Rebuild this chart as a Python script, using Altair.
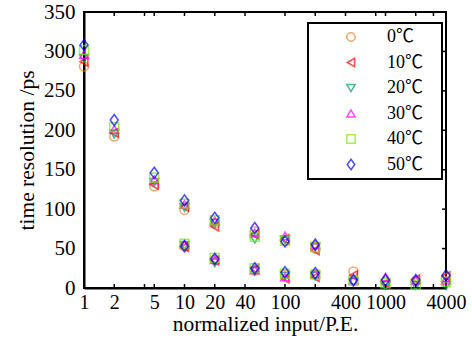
import altair as alt
import pandas as pd

temps = ["0℃", "10℃", "20℃", "30℃", "40℃", "50℃"]
colors = ["#E8842A", "#FF0000", "#00996B", "#FF00FF", "#77EE00", "#0000FF"]
shapes = ["circle", "triangle-left", "triangle-down", "triangle-up", "square",
          "M0,-1.25L0.9,0L0,1.25L-0.9,0Z"]

# upper branch
x_main = [1, 2, 5, 10, 20, 50, 100, 200, 480, 1000, 2000, 4000]
res_main = {
    "0℃":  [281, 192, 129, 99, 82, 72, 60, 50, 21, 8, 9, 13],
    "10℃": [287, 197, 131, 103, 78, 68, 62, 48, 16, 6, 11, 15],
    "20℃": [291, 195, 134, 102, 82, 62, 61, 52, 7, 3, 3, 3],
    "30℃": [296, 201, 137, 106, 85, 70, 66, 55, 10, 14, 10, 10],
    "40℃": [302, 204, 140, 107, 86, 65, 60, 52, 9, 6, 4, 8],
    "50℃": [308, 213, 146, 111, 89, 76, 59, 55, 10, 10, 10, 16],
}
# lower branch
x_low = [10, 20, 50, 100, 200]
res_low = {
    "0℃":  [53, 36, 22, 17, 17],
    "10℃": [52, 35, 24, 12, 14],
    "20℃": [54, 32, 21, 15, 15],
    "30℃": [55, 36, 23, 14, 18],
    "40℃": [56, 38, 25, 18, 17],
    "50℃": [53, 37, 25, 20, 19],
}

x_labels = [1, 2, 5, 10, 20, 40, 100, 400, 1000, 4000]
x_ticks = [2, 4, 5, 10, 20, 40, 100, 200, 400, 800, 1000, 2000, 3000]
y_labels = [0, 50, 100, 150, 200, 250, 300, 350]
y_ticks = [50, 100, 150, 200, 250, 300]

rows = []
for i, t in enumerate(temps):
    for xv, yv in zip(x_main, res_main[t]):
        rows.append({"input": xv, "res": yv, "temp": t, "o": i})
    for xv, yv in zip(x_low, res_low[t]):
        rows.append({"input": xv, "res": yv, "temp": t, "o": i})
df = pd.DataFrame(rows)

W, H = 362, 276
font = "Liberation Serif, 'Noto Sans CJK SC'"

xscale = alt.Scale(type="log", domain=[1, 4000], nice=False)
yscale = alt.Scale(domain=[0, 350], nice=False)

xaxis = alt.Axis(values=x_labels, title="normalized input/P.E.", ticks=False,
                 labelFlush=False, labelOverlap=False, labelPadding=4,
                 titlePadding=1, format="d", grid=False, labelFontSize=20)
yaxis = alt.Axis(values=y_labels, title="time resolution /ps", ticks=False,
                 labelFlush=False, labelOverlap=False,
                 labelPadding=9, titlePadding=5, grid=False, labelFontSize=21)

# trailing padding inside the legend box (zero-width char keeps spaces measured)
lab_expr = "datum.label + '\u00a0\u00a0\u00a0\u200b'"

points = alt.Chart(df).mark_point(filled=False, size=80, strokeWidth=1.5).encode(
    x=alt.X("input:Q", scale=xscale, axis=xaxis),
    y=alt.Y("res:Q", scale=yscale, axis=yaxis),
    color=alt.Color("temp:N", scale=alt.Scale(domain=temps, range=colors),
                    legend=alt.Legend(title=None, labelExpr=lab_expr)),
    shape=alt.Shape("temp:N", scale=alt.Scale(domain=temps, range=shapes),
                    legend=alt.Legend(title=None, labelExpr=lab_expr)),
    order=alt.Order("o:Q"),
)

df_xt = pd.DataFrame({"input": x_ticks})
df_yt = pd.DataFrame({"res": y_ticks})

bottom_ticks = alt.Chart(df_xt).mark_rule(color="black", strokeWidth=1.5).encode(
    x=alt.X("input:Q", scale=xscale, axis=xaxis), y=alt.value(H), y2=alt.value(H - 4))
top_ticks = alt.Chart(df_xt).mark_rule(color="black", strokeWidth=1.5).encode(
    x=alt.X("input:Q", scale=xscale, axis=xaxis), y=alt.value(0), y2=alt.value(4))
right_ticks = alt.Chart(df_yt).mark_rule(color="black", strokeWidth=1.5).encode(
    y=alt.Y("res:Q", scale=yscale, axis=yaxis), x=alt.value(W), x2=alt.value(W - 4))

chart = alt.layer(points, bottom_ticks, top_ticks, right_ticks).properties(
    width=W, height=H,
    autosize=alt.AutoSizeParams(type="none"),
    padding={"left": 84, "top": 12, "right": 26, "bottom": 55},
).configure_view(
    stroke="black", strokeWidth=2
).configure_axis(
    domainColor="black", domainWidth=2,
    labelFont=font, labelColor="black",
    titleFont=font, titleFontSize=21.5, titleFontWeight="normal", titleColor="black",
).configure_legend(
    orient="none", legendX=224, legendY=11,
    padding=5, strokeColor="black", strokeWidth=2, fillColor="white",
    labelFont=font, labelFontSize=18, labelColor="black",
    symbolSize=70, symbolStrokeWidth=1.5, symbolOffset=29, labelOffset=27,
    rowPadding=7.5,
)

chart.save("out.html", embed_options={"renderer": "svg", "actions": False})
